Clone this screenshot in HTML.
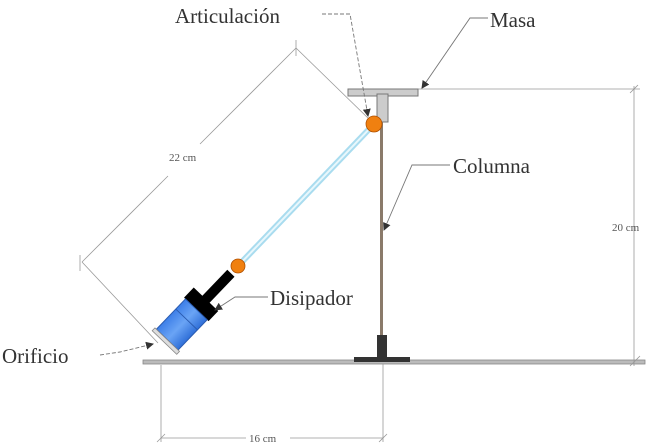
<!DOCTYPE html>
<html><head><meta charset="utf-8"><style>
html,body{margin:0;padding:0;background:#fff;}
svg{display:block;}
text{font-family:"Liberation Serif",serif;}
</style></head><body>
<svg width="658" height="448" viewBox="0 0 658 448" xmlns="http://www.w3.org/2000/svg" font-family="Liberation Serif, serif">
<defs>
<marker id="ar" markerWidth="8" markerHeight="8" refX="7" refY="4" orient="auto" markerUnits="userSpaceOnUse">
<path d="M0,0 L8,4 L0,8 Z" fill="#333"/></marker>
<linearGradient id="blue" x1="0" y1="0" x2="1" y2="0">
<stop offset="0" stop-color="#3d7fe8"/><stop offset="0.5" stop-color="#6aa4f5"/><stop offset="1" stop-color="#2f6fd8"/></linearGradient>
</defs>
<rect x="143" y="360" width="502" height="4" fill="#bbb" stroke="#888" stroke-width="0.8"/>
<g stroke="#999" stroke-width="0.8" fill="none">
<line x1="418" y1="89" x2="640" y2="89"/>
<line x1="634" y1="86" x2="634" y2="366"/>
<line x1="630" y1="93" x2="638" y2="85"/>
<line x1="630" y1="366" x2="640" y2="356"/>
<line x1="161" y1="365" x2="161" y2="442"/>
<line x1="383" y1="364" x2="383" y2="442"/>
<line x1="161" y1="438" x2="246" y2="438"/>
<line x1="290" y1="438" x2="383" y2="438"/>
<line x1="157" y1="442" x2="165" y2="434"/>
<line x1="379" y1="442" x2="387" y2="434"/>
<line x1="82" y1="262" x2="168" y2="176"/>
<line x1="200" y1="144" x2="296" y2="48"/>
<line x1="296" y1="48" x2="370" y2="120"/>
<line x1="82" y1="262" x2="158" y2="343"/>
<line x1="296" y1="40" x2="296" y2="56"/>
<line x1="80" y1="255" x2="80" y2="271"/>
</g>
<g font-size="11" fill="#555" font-family="Liberation Serif, serif">
<text x="169" y="161">22 cm</text>
<text x="612" y="231">20 cm</text>
<text x="249" y="442">16 cm</text>
</g>
<rect x="380" y="96" width="3" height="264" fill="#8a7a6a"/>
<rect x="377" y="335" width="10" height="25" fill="#333"/>
<rect x="354" y="357" width="56" height="5" fill="#333"/>
<rect x="348" y="89" width="70" height="7" fill="#ccc" stroke="#777" stroke-width="1"/>
<rect x="377" y="94" width="11" height="28" fill="#ccc" stroke="#777" stroke-width="1"/>
<line x1="374" y1="124" x2="238" y2="266" stroke="#a9dcef" stroke-width="6"/>
<line x1="374" y1="124" x2="238" y2="266" stroke="#e8f7fc" stroke-width="2"/>
<g transform="translate(188,318) rotate(43.8)">
<rect x="-5" y="-62" width="10" height="40" fill="#000"/>
<rect x="-17" y="-26" width="34" height="14" fill="#000"/>
<rect x="-15" y="-12" width="30" height="42" fill="url(#blue)" stroke="#2a5bb0" stroke-width="1"/>
<line x1="-15" y1="2" x2="15" y2="2" stroke="#2a5bb0"/>
<rect x="-17" y="30" width="34" height="4" fill="#ddd" stroke="#888" stroke-width="0.8"/>
</g>
<circle cx="238" cy="266" r="7" fill="#f08010" stroke="#b05000" stroke-width="0.8"/>
<circle cx="374" cy="124" r="8" fill="#f08010" stroke="#b05000" stroke-width="0.8"/>
<g stroke="#777" stroke-width="0.9" fill="none">
<polyline points="322,14 350,14 368,116" stroke-dasharray="4,2" marker-end="url(#ar)"/>
<polyline points="488,18 470,18 422,88" marker-end="url(#ar)"/>
<polyline points="450,165 412,165 384,230" marker-end="url(#ar)"/>
<polyline points="268,297 235,297 215,310" marker-end="url(#ar)"/>
<polyline points="100,355 120,352 153,344" stroke-dasharray="4,2" marker-end="url(#ar)"/>
</g>
<g font-size="21" fill="#333" font-family="Liberation Serif, serif">
<text x="175" y="23">Articulación</text>
<text x="490" y="27">Masa</text>
<text x="453" y="173">Columna</text>
<text x="270" y="305">Disipador</text>
<text x="2" y="363">Orificio</text>
</g>
</svg>
</body></html>
